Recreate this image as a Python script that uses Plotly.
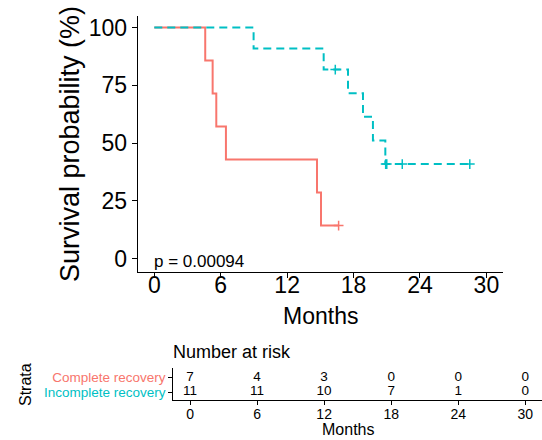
import plotly.graph_objects as go

# ---------------- data ----------------
groups = ["Complete recovery", "Incomplete recovery"]
colors = ["#F8766D", "#00BFC4"]
n_complete = 7
events_complete = [4.6, 5.27, 5.6, 6.47, 14.7, 15.06]
censor_complete = [16.65]
n_incomplete = 11
events_incomplete = [8.97, 15.3, 17.5, 18.85, 19.75, 20.87]
censor_incomplete = [16.35, 20.9, 21.0, 22.4, 28.5]

risk_times = [0, 6, 12, 18, 24, 30]
risk_complete = [7, 4, 3, 0, 0, 0]
risk_incomplete = [11, 11, 10, 7, 1, 0]
x_ticks = [0, 6, 12, 18, 24, 30]
y_ticks = [0, 25, 50, 75, 100]
p_text = "p = 0.00094"

W, H = 542, 440
FONT = "Liberation Sans, Arial, sans-serif"


def km(n, events, censors):
    times = sorted(set(events) | set(censors))
    at_risk = n
    s = 100.0
    xs, ys = [0.0], [100.0]
    cx, cy = [], []
    for t in times:
        d = events.count(t)
        c = censors.count(t)
        if d:
            s = s * (at_risk - d) / at_risk
            xs.append(t)
            ys.append(s)
        if c:
            cx += [t] * c
            cy += [s] * c
        at_risk -= d + c
    last = max(times)
    if xs[-1] != last:
        xs.append(last)
        ys.append(s)
    return xs, ys, cx, cy


fig = go.Figure()

curves = [
    (n_complete, events_complete, censor_complete, colors[0], "solid"),
    (n_incomplete, events_incomplete, censor_incomplete, colors[1], "8px,5px"),
]
for n, ev, ce, col, dash in curves:
    xs, ys, cx, cy = km(n, ev, ce)
    fig.add_trace(go.Scatter(x=xs, y=ys, mode="lines", line=dict(color=col, width=2, shape="hv", dash=dash),
                             showlegend=False, hoverinfo="skip", xaxis="x", yaxis="y"))
    fig.add_trace(go.Scatter(x=cx, y=cy, mode="markers",
                             marker=dict(symbol="cross-thin", size=7, line=dict(color=col, width=1.5)),
                             showlegend=False, hoverinfo="skip", xaxis="x", yaxis="y"))

# risk table
for row, vals in [(2, risk_complete), (1, risk_incomplete)]:
    fig.add_trace(go.Scatter(x=risk_times, y=[row] * len(risk_times), mode="text",
                             text=[str(v) for v in vals], textposition="middle center",
                             textfont=dict(family=FONT, size=13.5, color="black"),
                             showlegend=False, hoverinfo="skip", xaxis="x2", yaxis="y2"))

axis_common = dict(showline=True, linecolor="black", linewidth=1, ticks="outside", tickcolor="black",
                   tickwidth=1, showgrid=False, zeroline=False)

fig.update_layout(
    width=W, height=H, margin=dict(l=0, r=0, t=0, b=0),
    paper_bgcolor="white", plot_bgcolor="white",
    font=dict(family=FONT, color="black"),
    xaxis=dict(domain=[137.7 / W, 503 / W], range=[-1.5, 31.5], tickvals=x_ticks, ticklen=5,
               tickfont=dict(size=23), ticklabelstandoff=-13, anchor="y", **axis_common),
    yaxis=dict(domain=[1 - 272 / H, 1 - 16 / H], range=[-5.8, 105], tickvals=y_ticks, ticklen=5,
               tickfont=dict(size=23), anchor="x", **axis_common),
    xaxis2=dict(domain=[173.3 / W, 1.0], range=[-1.5, 31.5], tickvals=x_ticks, ticklen=4,
                tickfont=dict(size=14), ticklabelstandoff=-3, anchor="y2", **axis_common),
    yaxis2=dict(domain=[1 - 400 / H, 1 - 368 / H], range=[0.45, 2.65], tickvals=[2, 1], ticklen=4,
                ticktext=[f'<span style="color:{colors[0]}">{groups[0]}</span>',
                          f'<span style="color:{colors[1]}">{groups[1]}</span>'],
                tickfont=dict(size=13.5), anchor="x2", **axis_common),
    annotations=[
        dict(text="Survival probability (%)", x=70 / W, y=1 - 144 / H, xref="paper", yref="paper",
             textangle=-90, showarrow=False, xanchor="center", yanchor="middle", font=dict(size=27)),
        dict(text="Months", x=320 / W, y=1 - 316 / H, xref="paper", yref="paper",
             showarrow=False, xanchor="center", yanchor="middle", font=dict(size=23)),
        dict(text=p_text, x=0, y=-1.3, xref="x", yref="y", showarrow=False,
             xanchor="left", yanchor="middle", xshift=-2, font=dict(size=17)),
        dict(text="Number at risk", x=173.3 / W, y=1 - 352 / H, xref="paper", yref="paper",
             showarrow=False, xanchor="left", yanchor="middle", xshift=-2, font=dict(size=18)),
        dict(text="Strata", x=25 / W, y=1 - 385 / H, xref="paper", yref="paper", textangle=-90,
             showarrow=False, xanchor="center", yanchor="middle", font=dict(size=16)),
        dict(text="Months", x=348 / W, y=1 - 429 / H, xref="paper", yref="paper",
             showarrow=False, xanchor="center", yanchor="middle", font=dict(size=16)),
    ],
)

fig.write_html("out.html")
